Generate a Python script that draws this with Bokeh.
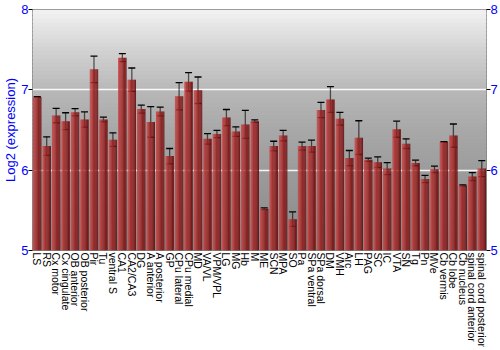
import numpy as np
from bokeh.plotting import figure
from bokeh.models import (ColumnDataSource, Whisker, TeeHead, LinearAxis, Range1d,
                          FixedTicker, FactorRange)
from bokeh.transform import dodge
from bokeh.embed import file_html
from bokeh.resources import INLINE

regions = ["LS", "RS", "Cx motor", "Cx cingulate", "OB anterior", "OB posterior", "Pir", "Tu",
           "ventral S", "CA1", "CA2/CA3", "DG", "A anterior", "A posterior", "GP", "CPu lateral",
           "CPu medial", "MD", "VA/VL", "VPM/VPL", "LG", "MG", "Hb", "M", "ME", "SCN", "MPA", "SO",
           "Pa", "SPa ventral", "SPa dorsal", "DM", "VMH", "Arc", "LH", "PAG", "SC", "IC", "VTA",
           "SN", "Tg", "Pn", "MVe", "Cb vermis", "Cb lobe", "Cb nucleus", "spinal cord anterior",
           "spinal cord posterior"]
expression = [6.91, 6.30, 6.68, 6.61, 6.72, 6.63, 7.255, 6.63,
              6.38, 7.40, 7.127, 6.76, 6.60, 6.73, 6.175, 6.92,
              7.10, 6.995, 6.39, 6.45, 6.655, 6.48, 6.57, 6.61, 5.52, 6.30, 6.43, 5.39,
              6.30, 6.30, 6.75, 6.88, 6.64, 6.15, 6.405, 6.13, 6.10, 6.02, 6.51,
              6.33, 6.09, 5.89, 6.01, 6.35, 6.43, 5.81, 5.92, 6.02]
error = [0.005, 0.115, 0.09, 0.105, 0.045, 0.095, 0.165, 0.03,
         0.085, 0.05, 0.145, 0.05, 0.19, 0.055, 0.095, 0.17,
         0.115, 0.165, 0.065, 0.045, 0.10, 0.06, 0.175, 0.015, 0.01, 0.06, 0.065, 0.09,
         0.05, 0.075, 0.095, 0.16, 0.08, 0.095, 0.21, 0.02, 0.065, 0.075, 0.10,
         0.06, 0.035, 0.045, 0.04, 0.005, 0.145, 0.008, 0.05, 0.10]
y_ticks = [5, 6, 7, 8]

BLUE = "#0000ff"
FONT = "Liberation Sans"

src = ColumnDataSource(dict(
    cat=regions, val=expression,
    upper=[v + e for v, e in zip(expression, error)],
    lower=[v - e for v, e in zip(expression, error)],
))

p = figure(x_range=FactorRange(*regions, range_padding=0), y_range=Range1d(5, 8),
           width=500, height=350, output_backend="svg", toolbar_location=None,
           min_border_left=0, min_border_right=0, min_border_top=9, min_border_bottom=0)
p.outline_line_color = "#808080"
p.outline_line_width = 1
p.background_fill_color = "white"
p.border_fill_color = "white"

# background vertical gradient (light top, darker bottom)
n_bg = 60
edges = np.linspace(5, 8, n_bg + 1)
mids = (edges[:-1] + edges[1:]) / 2
gray = np.interp(mids, [5, 5.5, 6, 6.5, 7, 7.5, 8], [136, 146, 156, 168, 184, 210, 242])
cols = ["#%02x%02x%02x" % (int(g), int(g), int(g)) for g in gray]
bg_src = ColumnDataSource(dict(
    y=mids, c=cols,
    l=[regions[0]] * n_bg, r=[regions[-1]] * n_bg,
))
bg = p.hbar(y="y", height=3 / n_bg + 0.025,
            left=dodge("l", -0.5, range=p.x_range), right=dodge("r", 0.5, range=p.x_range),
            fill_color="c", line_color=None, source=bg_src)
bg.level = "image"

# bars with horizontal gradient
bar_w = 0.88
n_s = 10
sw = bar_w / n_s
left_c = np.array([205, 80, 80])
mid_c = np.array([170, 45, 45])
right_c = np.array([105, 15, 15])
for k in range(n_s):
    t = (k + 0.5) / n_s
    if t < 0.35:
        c = left_c + (mid_c - left_c) * (t / 0.35)
    else:
        c = mid_c + (right_c - mid_c) * ((t - 0.35) / 0.65)
    col = "#%02x%02x%02x" % tuple(int(x) for x in c)
    off = -bar_w / 2 + (k + 0.5) * sw
    p.vbar(x=dodge("cat", off, range=p.x_range), top="val", bottom=5, width=sw + 0.01,
           source=src, fill_color=col, line_color=None)

w = Whisker(base="cat", upper="upper", lower="lower", source=src,
            line_color="black", line_alpha=0.6, line_width=1.3,
            upper_head=TeeHead(size=7, line_color="black", line_width=1.3),
            lower_head=TeeHead(size=7, line_color="black", line_width=1.3))
p.add_layout(w)

# grid
p.xgrid.visible = False
p.ygrid.ticker = FixedTicker(ticks=[6, 7])
p.ygrid.grid_line_color = "white"
p.ygrid.grid_line_width = 1.5
p.ygrid.grid_line_alpha = 0.9
p.ygrid.level = "underlay"

# axes
def style_y(ax):
    ax.major_label_text_color = BLUE
    ax.major_label_text_font = FONT
    ax.major_label_text_font_size = "13px"
    ax.major_label_standoff = 0
    ax.major_tick_out = 4
    ax.major_tick_in = 0
    ax.minor_tick_out = 0
    ax.minor_tick_in = 0
    ax.axis_line_color = None
    ax.major_tick_line_color = "black"

yax = p.yaxis[0]
yax.ticker = FixedTicker(ticks=y_ticks)
style_y(yax)
yax.axis_label = "Log2 (expression)"
yax.axis_label_text_color = BLUE
yax.axis_label_text_font = FONT
yax.axis_label_text_font_size = "13px"
yax.axis_label_text_font_style = "normal"
yax.axis_label_standoff = 0

rax = LinearAxis(ticker=FixedTicker(ticks=y_ticks))
style_y(rax)
p.add_layout(rax, "right")

xax = p.xaxis[0]
xax.major_label_orientation = "vertical"
xax.major_label_text_font = FONT
xax.major_label_text_font_size = "10.5px"
xax.major_label_text_color = "black"
xax.major_label_standoff = 2
xax.major_tick_line_color = None
xax.axis_line_color = None
xax.major_tick_out = 0

open("out.html", "w").write(file_html(p, INLINE))
